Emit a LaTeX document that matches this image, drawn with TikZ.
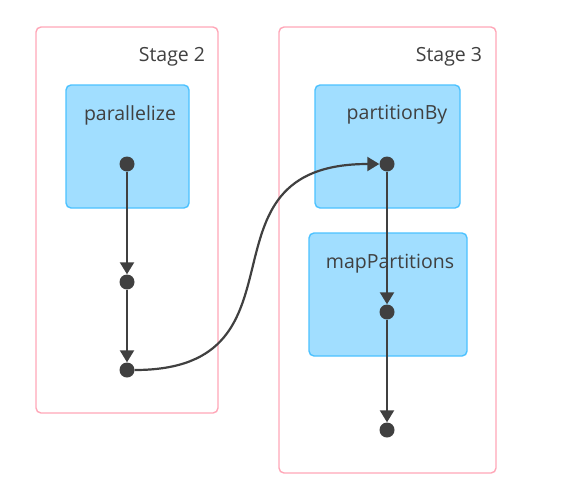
\documentclass[tikz,border=0pt]{standalone}
\usepackage{fontspec}
\setmainfont{Open Sans}
\usetikzlibrary{arrows.meta}
\definecolor{stagepink}{HTML}{FFA7B8}
\definecolor{opfill}{HTML}{A1DEFF}
\definecolor{opline}{HTML}{4CC2FF}
\definecolor{dotgray}{HTML}{404040}
\tikzset{
  stagebox/.style={draw=stagepink,line width=1.4pt,rounded corners=5pt,fill=white},
  opbox/.style={draw=opline,line width=1.4pt,rounded corners=5pt,fill=opfill},
  lbl/.style={font=\fontsize{19.5}{22}\selectfont,text=dotgray,inner sep=0pt},
  rdd/.style={circle,fill=dotgray,minimum size=15pt,inner sep=0pt},
  flow/.style={draw=dotgray,line width=2.2pt,-{Triangle[width=14pt,length=12pt]}}
}
\begin{document}
\begin{tikzpicture}[x=1pt,y=-1pt]
\useasboundingbox (0,0) rectangle (580,490);
% stages
\draw[stagebox] (36,27) rectangle (218,413);
\draw[stagebox] (279,27) rectangle (496,473);
\node[lbl] (s2) at (172,57) {Stage 2};
\node[lbl] (s3) at (449,57) {Stage 3};
% operations
\draw[opbox] (66,85) rectangle (189,208);
\draw[opbox] (315,85) rectangle (460,208);
\draw[opbox] (309,233) rectangle (467,356);
\node[lbl] (p1) at (130,115) {parallelize};
\node[lbl] (p2) at (397,115) {partitionBy};
\node[lbl] (p3) at (390,264) {mapPartitions};
% dots
\node[rdd] (a) at (127,164) {};
\node[rdd] (b) at (127,282) {};
\node[rdd] (c) at (127,370) {};
\node[rdd] (d) at (387,164) {};
\node[rdd] (e) at (387,312) {};
\node[rdd] (f) at (387,430) {};
% edges
\draw[flow] (a) -- (b);
\draw[flow] (b) -- (c);
\draw[flow] (c.east) .. controls (319,370) and (187,164) .. (d.west);
\draw[flow] (d) -- (e);
\draw[flow] (e) -- (f);
\end{tikzpicture}
\end{document}
